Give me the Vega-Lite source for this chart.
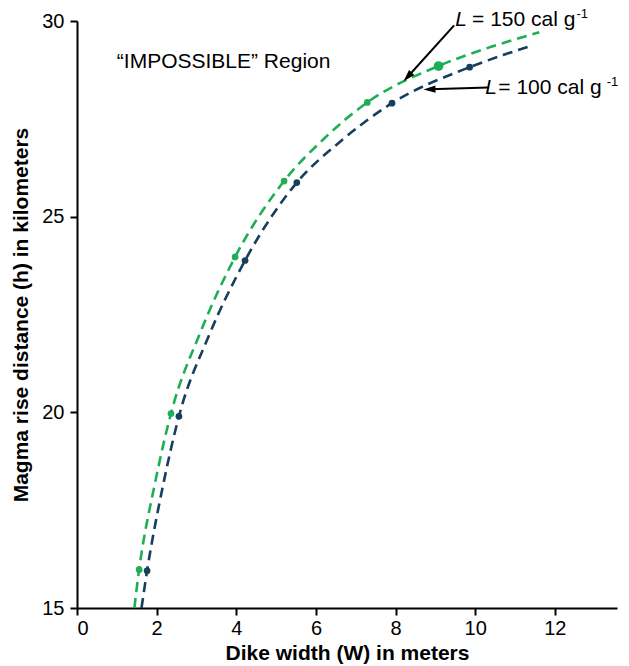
{
  "$schema": "https://vega.github.io/schema/vega-lite/v6.json",
  "width": 540,
  "height": 587,
  "autosize": {"type": "none"},
  "padding": {"left": 77, "top": 21, "right": 12, "bottom": 58},
  "config": {
    "view": {"stroke": null},
    "font": "Liberation Sans",
    "axis": {
      "grid": false,
      "domainColor": "black",
      "domainWidth": 2,
      "tickColor": "black",
      "tickWidth": 2,
      "tickSize": 7,
      "labelFont": "Liberation Sans",
      "labelFontSize": 20,
      "labelColor": "black",
      "titleFont": "Liberation Sans",
      "titleFontSize": 21,
      "titleFontWeight": "bold",
      "titleColor": "black"
    }
  },
  "datasets": {
    "curves": [
      {"L": "150", "W": 1.44, "h": 15},
      {"L": "150", "W": 1.56, "h": 15.98},
      {"L": "150", "W": 1.95, "h": 18.15},
      {"L": "150", "W": 2.36, "h": 19.97},
      {"L": "150", "W": 3.1, "h": 22.05},
      {"L": "150", "W": 3.97, "h": 23.97},
      {"L": "150", "W": 5.2, "h": 25.91},
      {"L": "150", "W": 6.2, "h": 26.99},
      {"L": "150", "W": 7.29, "h": 27.92},
      {"L": "150", "W": 9.08, "h": 28.85},
      {"L": "150", "W": 10.4, "h": 29.34},
      {"L": "150", "W": 11.61, "h": 29.71},
      {"L": "100", "W": 1.62, "h": 15},
      {"L": "100", "W": 1.76, "h": 15.95},
      {"L": "100", "W": 2.15, "h": 18.08},
      {"L": "100", "W": 2.56, "h": 19.9},
      {"L": "100", "W": 3.3, "h": 21.93},
      {"L": "100", "W": 4.22, "h": 23.88},
      {"L": "100", "W": 5.52, "h": 25.87},
      {"L": "100", "W": 6.6, "h": 26.91},
      {"L": "100", "W": 7.91, "h": 27.9},
      {"L": "100", "W": 9.86, "h": 28.82},
      {"L": "100", "W": 10.7, "h": 29.13},
      {"L": "100", "W": 11.46, "h": 29.38}
    ],
    "points": [
      {"L": "150", "W": 1.56, "h": 15.98},
      {"L": "150", "W": 2.36, "h": 19.97},
      {"L": "150", "W": 3.97, "h": 23.97},
      {"L": "150", "W": 5.2, "h": 25.91},
      {"L": "150", "W": 7.29, "h": 27.92},
      {"L": "100", "W": 1.76, "h": 15.95},
      {"L": "100", "W": 2.56, "h": 19.9},
      {"L": "100", "W": 4.22, "h": 23.88},
      {"L": "100", "W": 5.52, "h": 25.87},
      {"L": "100", "W": 7.91, "h": 27.9},
      {"L": "100", "W": 9.86, "h": 28.82}
    ],
    "highlight": [
      {"L": "150", "W": 9.08, "h": 28.85}
    ],
    "arrow150": [
      {"W": 9.47, "h": 29.89},
      {"W": 8.3, "h": 28.57}
    ],
    "tip150": [{"W": 8.2, "h": 28.46}],
    "arrow100": [
      {"W": 10.33, "h": 28.3},
      {"W": 8.85, "h": 28.255}
    ],
    "tip100": [{"W": 8.7, "h": 28.25}],
    "italic": [
      {"W": 9.5, "h": 30.02, "t": "L"},
      {"W": 10.25, "h": 28.28, "t": "L"}
    ],
    "normal": [
      {"W": 9.92, "h": 30.02, "t": "= 150 cal g"},
      {"W": 10.58, "h": 28.28, "t": "= 100 cal g"},
      {"W": 1.0, "h": 28.94, "t": "“IMPOSSIBLE” Region"}
    ],
    "sup": [
      {"W": 12.54, "h": 30.17, "t": "-1"},
      {"W": 13.3, "h": 28.43, "t": "-1"}
    ]
  },
  "encoding": {
    "x": {
      "field": "W",
      "type": "quantitative",
      "scale": {"domain": [0, 13.56], "nice": false, "zero": false},
      "axis": {"values": [0, 2, 4, 6, 8, 10, 12], "title": "Dike width (W) in meters", "labelPadding": 3, "titlePadding": 4}
    },
    "y": {
      "field": "h",
      "type": "quantitative",
      "scale": {"domain": [15, 30], "nice": false, "zero": false},
      "axis": {"values": [15, 20, 25, 30], "title": "Magma rise distance (h) in kilometers", "labelPadding": 6, "titlePadding": 10}
    }
  },
  "layer": [
    {
      "data": {"name": "curves"},
      "mark": {"type": "line", "interpolate": "monotone", "strokeDash": [10, 6], "strokeWidth": 2.6},
      "encoding": {
        "color": {"field": "L", "type": "nominal", "scale": {"domain": ["150", "100"], "range": ["#1daf55", "#173e5c"]}, "legend": null},
        "detail": {"field": "L"}
      }
    },
    {
      "data": {"name": "points"},
      "mark": {"type": "circle", "size": 45, "opacity": 1},
      "encoding": {
        "color": {"field": "L", "type": "nominal", "scale": {"domain": ["150", "100"], "range": ["#1daf55", "#173e5c"]}, "legend": null}
      }
    },
    {
      "data": {"name": "highlight"},
      "mark": {"type": "circle", "size": 95, "opacity": 1, "color": "#1daf55"},
      "encoding": {}
    },
    {
      "data": {"name": "arrow150"},
      "mark": {"type": "line", "color": "black", "strokeWidth": 2},
      "encoding": {}
    },
    {
      "data": {"name": "tip150"},
      "mark": {"type": "point", "shape": "M0,0L0.6,2L-0.6,2Z", "filled": true, "color": "black", "opacity": 1, "size": 144, "angle": 222.7},
      "encoding": {}
    },
    {
      "data": {"name": "arrow100"},
      "mark": {"type": "line", "color": "black", "strokeWidth": 2},
      "encoding": {}
    },
    {
      "data": {"name": "tip100"},
      "mark": {"type": "point", "shape": "M0,0L0.6,2L-0.6,2Z", "filled": true, "color": "black", "opacity": 1, "size": 144, "angle": 268.2},
      "encoding": {}
    },
    {
      "data": {"name": "italic"},
      "mark": {"type": "text", "font": "Liberation Sans", "fontSize": 21, "fontStyle": "italic", "align": "left", "baseline": "middle", "color": "black"},
      "encoding": {"text": {"field": "t"}}
    },
    {
      "data": {"name": "normal"},
      "mark": {"type": "text", "font": "Liberation Sans", "fontSize": 21, "align": "left", "baseline": "middle", "color": "black"},
      "encoding": {"text": {"field": "t"}}
    },
    {
      "data": {"name": "sup"},
      "mark": {"type": "text", "font": "Liberation Sans", "fontSize": 13, "align": "left", "baseline": "middle", "color": "black"},
      "encoding": {"text": {"field": "t"}}
    }
  ]
}
